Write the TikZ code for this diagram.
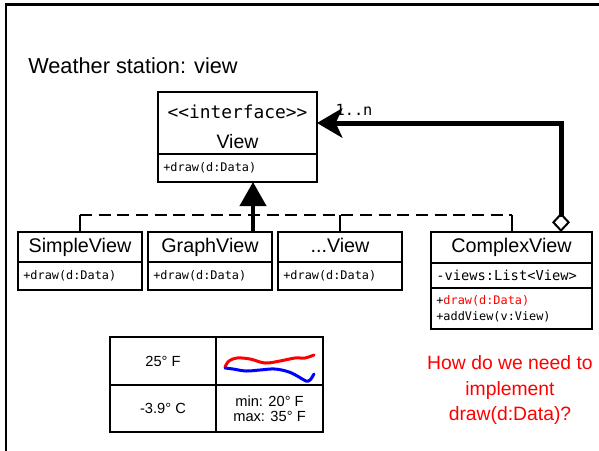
\documentclass[tikz,border=0pt]{standalone}
\usepackage{fontspec}
\setmainfont{Liberation Sans}
\setmonofont{DejaVu Sans Mono}
\usetikzlibrary{arrows.meta}
\definecolor{qred}{RGB}{255,0,0}
\definecolor{wblue}{RGB}{0,0,255}
\tikzset{
  box/.style={draw, line width=1.5pt, outer sep=0pt, inner sep=0pt, anchor=north west},
  hdr/.style={box, align=center, font=\fontsize{14.8}{17}\selectfont, text height=1.55ex, text depth=0.1ex},
  meth/.style={box, align=left, inner xsep=4pt, font=\ttfamily\fontsize{8.9}{12}\selectfont},
  cell/.style={box, align=center, font=\fontsize{11}{11.3}\selectfont, minimum width=80pt},
  realiz/.style={line width=1.5pt, dash pattern=on 9pt off 5pt},
  tick/.style={line width=1.5pt},
  gen/.style={line width=3pt, -{Triangle[length=18pt, width=19.5pt]}},
  agg/.style={line width=3.75pt, {Diamond[open, line width=1.5pt, length=14.5pt, width=13.5pt]}-{Stealth[length=19pt, width=22pt, inset=5pt]}},
  wave/.style={line width=2.25pt, line cap=round},
}
\begin{document}
\begin{tikzpicture}[x=0.75pt, y=-0.75pt]
\useasboundingbox (0,0) rectangle (599,450);
% frame
\draw[line width=1.8pt] (6.2,451) -- (6.2,4.5) -- (601,4.5);
% title
\node[anchor=base west, inner sep=0pt, font=\fontsize{16.3}{19}\selectfont] (title) at (28,73) {Weather station: view};
% View interface
\node[box, align=center, minimum width=119.25pt, minimum height=46.5pt, font=\fontsize{14.6}{22}\selectfont] (viewH) at (158,92)
  {\rule{0pt}{16pt}{\ttfamily\fontsize{13.4}{22}\selectfont <<interface>>}\\View};
\node[meth, text width=111.25pt, minimum height=21pt] (viewM) at (viewH.south west) {+draw(d:Data)};
% Row classes
\node[hdr, minimum width=93pt, minimum height=22.5pt] (simpleH) at (18,232) {SimpleView};
\node[meth, text width=85pt, minimum height=21pt] (simpleM) at (simpleH.south west) {+draw(d:Data)};
\node[hdr, minimum width=93pt, minimum height=22.5pt] (graphH) at (148,232) {GraphView};
\node[meth, text width=85pt, minimum height=21pt] (graphM) at (graphH.south west) {+draw(d:Data)};
\node[hdr, minimum width=93pt, minimum height=22.5pt] (dotsH) at (278,232) {...View};
\node[meth, text width=85pt, minimum height=21pt] (dotsM) at (dotsH.south west) {+draw(d:Data)};
\node[hdr, minimum width=120.75pt, minimum height=23.25pt] (cplxH) at (431,232) {ComplexView};
\node[meth, text width=112.75pt, minimum height=18.75pt, font=\ttfamily\fontsize{10.3}{12}\selectfont] (cplxA) at (cplxH.south west) {-views:List<View>};
\node[meth, text width=112.75pt, minimum height=30.75pt] (cplxM) at (cplxA.south west) {+\textcolor{qred}{draw(d:Data)}\\+addView(v:View)};
% realization (dashed)
\coordinate (jS) at (80,215);
\coordinate (jD) at (340,215);
\coordinate (jC) at (512,215);
\draw[realiz] (jS) -- (jC);
\draw[tick] (jS) -- (simpleH.north -| jS);
\draw[tick] (jD) -- (dotsH.north -| jD);
\draw[tick] (jC) -- (cplxH.north -| jC);
% generalization
\coordinate (gB) at (253,232);
\draw[gen] (gB) -- (viewM.south -| gB);
% aggregation
\coordinate (aS) at (561,232);
\coordinate (aT) at (317,123);
\draw[agg] (aS) -- (aS |- aT) -- (viewH.east |- aT);
\node[inner sep=0pt, font=\ttfamily\fontsize{11.5}{13}\selectfont] (mult) at (354,110) {1..n};
% table
\node[cell, minimum width=79.5pt, minimum height=36pt] (c11) at (110,337) {25° F};
\node[cell, minimum width=80.25pt, minimum height=36pt] (c12) at (c11.north east) {};
\node[cell, minimum width=79.5pt, minimum height=35.25pt] (c21) at (c11.south west) {-3.9° C};
\node[cell, minimum width=80.25pt, minimum height=35.25pt] (c22) at (c21.north east) {min: 20° F\\max: 35° F};
\draw[wave, qred] plot[smooth, tension=0.6] coordinates {(225,367) (229,361) (237,358) (250,359) (265,363) (280,361) (295,358) (305,358) (314,355)};
\draw[wave, wblue] plot[smooth, tension=0.6] coordinates {(225,368) (233,369) (246,371) (260,370) (275,369) (289,372) (299,377) (306,381) (310,380) (314,374)};
% question
\node[align=center, text=qred, inner sep=0pt, font=\fontsize{14.5}{19}\selectfont] (q) at (510,390) {How do we need to\\implement\\draw(d:Data)?};
\end{tikzpicture}
\end{document}
